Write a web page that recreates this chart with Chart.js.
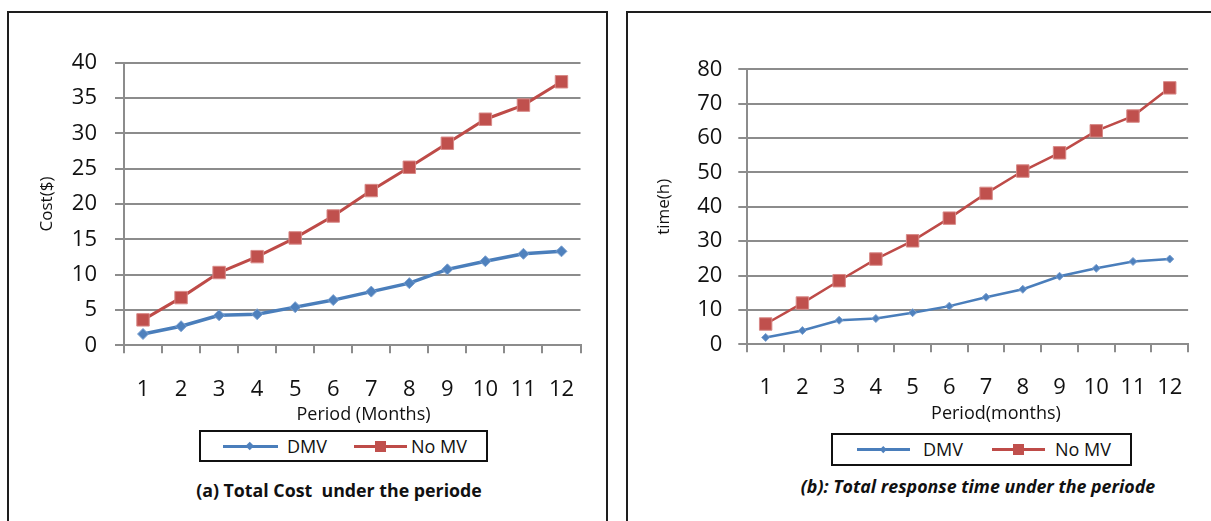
<!DOCTYPE html>
<html>
<head>
<meta charset="utf-8">
<script src="https://cdn.jsdelivr.net/npm/chart.js@4.4.1/dist/chart.umd.min.js"></script>
<style>
html,body{margin:0;padding:0;background:#fff;width:1211px;height:521px;overflow:hidden;font-family:'Open Sans',sans-serif;}
.panel{position:absolute;border:2px solid #1e1e1e;box-sizing:border-box;}
canvas{position:absolute;}
.legend{position:absolute;border:2px solid #111;box-sizing:border-box;background:#fff;}
.line{position:absolute;height:3px;}
.mk{position:absolute;}
.txt{position:absolute;top:0;font-size:18px;color:#111;white-space:nowrap;}
.caption{position:absolute;width:440px;text-align:center;font-weight:bold;font-size:17.8px;line-height:22px;white-space:pre;color:#111;}
.xtitle{position:absolute;width:300px;text-align:center;font-size:18px;line-height:22px;color:#111;white-space:nowrap;}
</style>
</head>
<body>
<div class="panel" style="left:7px;top:11px;width:601px;height:530px;"></div>
<div class="panel" style="left:626px;top:11px;width:600px;height:530px;"></div>

<canvas id="c1" width="590" height="400" style="left:10px;top:30px;"></canvas>
<canvas id="c2" width="575" height="400" style="left:630px;top:30px;"></canvas>

<div class="xtitle" id="xt1" style="left:213.5px;top:401.5px;"></div>
<div class="xtitle" id="xt2" style="left:846px;top:400.5px;"></div>

<!-- legend (a) -->
<div class="legend" style="left:199px;top:430px;width:289px;height:32px;">
  <div class="line" style="left:22px;top:12.5px;width:55px;background:#4A7EBB;"></div>
  <div class="mk" style="left:46px;top:11px;width:5.5px;height:5.5px;background:#4F81BD;transform:rotate(45deg);"></div>
  <div class="txt" style="left:86px;line-height:28px;">DMV</div>
  <div class="line" style="left:153px;top:12.5px;width:53px;background:#BE4B48;"></div>
  <div class="mk" style="left:174px;top:9px;width:11px;height:11px;background:#C0504D;"></div>
  <div class="txt" style="left:210px;line-height:28px;">No MV</div>
</div>
<!-- legend (b) -->
<div class="legend" style="left:831px;top:433px;width:301px;height:33px;">
  <div class="line" style="left:24px;top:12.5px;width:53px;background:#4A7EBB;"></div>
  <div class="mk" style="left:48px;top:11.5px;width:4.5px;height:4.5px;background:#4F81BD;transform:rotate(45deg);"></div>
  <div class="txt" style="left:90px;line-height:29px;">DMV</div>
  <div class="line" style="left:159px;top:12.5px;width:53px;background:#BE4B48;"></div>
  <div class="mk" style="left:180px;top:9px;width:11px;height:11px;background:#C0504D;"></div>
  <div class="txt" style="left:222px;line-height:29px;">No MV</div>
</div>

<div class="caption" style="left:119px;top:479px;">(a) Total Cost  under the periode</div>
<div class="caption" style="left:758px;top:475px;font-style:italic;">(b): Total response time under the periode</div>

<script>
// ---- data ----
const months = ['1','2','3','4','5','6','7','8','9','10','11','12'];
const costDMV  = [1.6, 2.7, 4.25, 4.4, 5.4, 6.4, 7.6, 8.8, 10.75, 11.9, 12.95, 13.3];
const costNoMV = [3.6, 6.75, 10.3, 12.55, 15.2, 18.3, 21.9, 25.2, 28.6, 32.0, 34.0, 37.3];
const timeDMV  = [2.0, 4.0, 7.0, 7.5, 9.2, 11.1, 13.7, 16.0, 19.8, 22.1, 24.1, 24.8];
const timeNoMV = [5.9, 12.0, 18.5, 24.8, 30.1, 36.7, 43.9, 50.4, 55.7, 62.1, 66.4, 74.6];
const seriesNames = ['DMV', 'No MV'];
const costTickMax = 40, costTickStep = 5;
const timeTickMax = 80, timeTickStep = 10;
const axisTitles = { costX: 'Period (Months)', costY: 'Cost($)', timeX: 'Period(months)', timeY: 'time(h)' };

document.getElementById('xt1').textContent = axisTitles.costX;
document.getElementById('xt2').textContent = axisTitles.timeX;

Chart.defaults.font.family = "'Open Sans', sans-serif";
const GRID = '#8c8c8c';
const TXT = '#111';

function makeChart(id, c) {
  return new Chart(document.getElementById(id), {
    type: 'line',
    data: {
      labels: months,
      datasets: [
        { label: seriesNames[0], data: c.dmv, borderColor: '#4A7EBB', backgroundColor: '#4F81BD',
          borderWidth: c.blueW, pointStyle: 'rectRot', pointRadius: c.diamondR,
          pointBackgroundColor: '#4F81BD', pointBorderColor: '#7aa0d0', pointBorderWidth: 1, tension: 0 },
        { label: seriesNames[1], data: c.nomv, borderColor: '#BE4B48', backgroundColor: '#C0504D',
          borderWidth: c.redW, pointStyle: 'rect', pointRadius: c.squareR,
          pointBackgroundColor: '#C0504D', pointBorderColor: '#d88a88', pointBorderWidth: 1, tension: 0 }
      ]
    },
    options: {
      responsive: false, animation: false, devicePixelRatio: 1,
      layout: { padding: { top: c.padTop, right: c.padRight, left: 0, bottom: 0 } },
      plugins: { legend: { display: false }, tooltip: { enabled: false } },
      scales: {
        x: {
          type: 'category', offset: true,
          grid: { offset: true, drawOnChartArea: false, drawTicks: true, tickLength: 8, color: GRID, lineWidth: 2 },
          border: { display: true, color: GRID, width: 2 },
          ticks: { padding: c.xPad, font: { size: 22 }, color: TXT, maxRotation: 0, autoSkip: false },
          title: { display: false },
          afterFit: s => { s.height = c.xHeight; }
        },
        y: {
          min: 0, max: c.ymax,
          ticks: { stepSize: c.step, padding: c.yPad, font: { size: 22 }, color: TXT },
          grid: { color: GRID, lineWidth: 2, tickLength: 9, drawTicks: true },
          border: { display: true, color: GRID, width: 2 },
          title: { display: true, text: c.yTitle, font: { size: 17 }, color: TXT, padding: { top: c.yTitlePad, bottom: 0 } },
          afterFit: s => { s.width = c.yWidth; }
        }
      }
    }
  });
}

makeChart('c1', {
  dmv: costDMV, nomv: costNoMV, ymax: costTickMax, step: costTickStep, yTitle: axisTitles.costY,
  blueW: 3.5, redW: 3, diamondR: 5.5, squareR: 8.8,
  padTop: 32.7, padRight: 19.5, xHeight: 84.7, yWidth: 114,
  xPad: 23, yPad: 18, yTitlePad: 27
});
makeChart('c2', {
  dmv: timeDMV, nomv: timeNoMV, ymax: timeTickMax, step: timeTickStep, yTitle: axisTitles.timeY,
  blueW: 2.5, redW: 2.5, diamondR: 4, squareR: 8.8,
  padTop: 39.3, padRight: 16.3, xHeight: 85.7, yWidth: 117.3,
  xPad: 22, yPad: 16, yTitlePad: 24
});
</script>
</body>
</html>
